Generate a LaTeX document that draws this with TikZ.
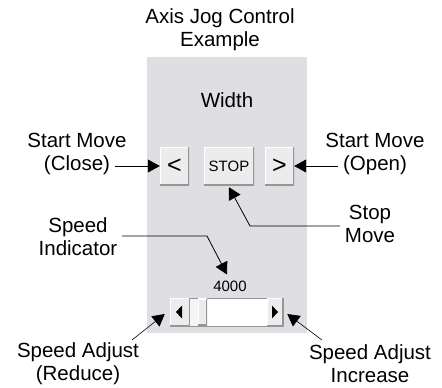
\documentclass[tikz,border=0pt]{standalone}
\usepackage{fontspec}
\setmainfont{Liberation Sans}
\usetikzlibrary{arrows.meta}
\definecolor{panel}{RGB}{222,222,227}
\definecolor{face}{RGB}{236,236,236}
\definecolor{edgedark}{RGB}{150,150,150}
\tikzset{
  lbl/.style={align=center, inner sep=0pt, font=\fontsize{20.5}{23}\selectfont},
  btn/.style={fill=face, inner sep=0pt, draw=none,
    path picture={
      \draw[white, line width=2.5pt] (path picture bounding box.south west) -- (path picture bounding box.north west) -- (path picture bounding box.north east);
      \draw[edgedark, line width=2.5pt] (path picture bounding box.south west) -- (path picture bounding box.south east) -- (path picture bounding box.north east);
    }},
  arr/.style={-{Triangle[length=12pt,width=13pt]}, line width=0.8pt},
  thinarr/.style={-{Triangle[length=12pt,width=13pt]}, line width=0.6pt},
}
\begin{document}
\begin{tikzpicture}[x=1pt,y=-1pt]
\useasboundingbox (0,0) rectangle (442,388);
% panel
\fill[panel] (147,57) rectangle (307,333);
% texts
\node[lbl] (title) at (220,30) {Axis Jog Control\\Example};
\node[lbl] (width) at (227,100) {Width};
\node[lbl] (closelbl) at (77,154) {Start Move\\(Close)};
\node[lbl] (openlbl) at (375,154) {Start Move\\(Open)};
\node[lbl] (stoplbl) at (370,224) {Stop\\Move};
\node[lbl] (spdlbl) at (78,237) {Speed\\Indicator};
\node[lbl] (redlbl) at (78,364) {Speed Adjust\\(Reduce)};
\node[lbl] (inclbl) at (370,364) {Speed Adjust\\Increase};
% buttons
\node[btn, minimum width=29pt, minimum height=38pt, font=\fontsize{25}{25}\selectfont] (bl) at (174.5,166) {<};
\node[btn, minimum width=50pt, minimum height=38pt, font=\fontsize{15}{15}\selectfont] (stop) at (229,166) {STOP};
\node[btn, minimum width=29pt, minimum height=38pt, font=\fontsize{25}{25}\selectfont] (br) at (279.5,166) {>};
% value
\node[inner sep=2pt, font=\fontsize{15}{15}\selectfont] (val) at (230,286) {4000};
% slider
\node[fill=white, draw=edgedark, line width=0.5pt, minimum width=113pt, minimum height=28pt, inner sep=0pt] (sl) at (226.5,312) {};
\node[btn, minimum width=20pt, minimum height=28pt] (sll) at (180,312) {};
\node[btn, minimum width=16pt, minimum height=28pt] (slr) at (275,312) {};
\fill[face!60!white] (190,298.5) rectangle (198,325.5);
\node[btn, minimum width=9pt, minimum height=27pt] (thumb) at (202.5,312) {};
\fill (182,305.5) -- (182,318.5) -- (176,312) -- cycle;
\fill (272,305.5) -- (272,318.5) -- (278,312) -- cycle;
% connectors
\coordinate (c1) at (115,166);
\coordinate (c2) at (338,166);
\coordinate (c3a) at (340,226);
\coordinate (c3b) at (250,226);
\coordinate (c4a) at (122,236);
\coordinate (c4b) at (207,236);
\coordinate (c5) at (132,340);
\coordinate (c6) at (322,340);
\draw[arr] (c1) -- (bl.west);
\draw[arr] (c2) -- (br.east);
\draw[arr] (c3a) -- (c3b) -- ([yshift=-2pt]stop.south);
\draw[arr] (c4a) -- (c4b) -- ([xshift=-3pt,yshift=4pt]val.north);
\draw[thinarr] (c5) -- ([xshift=-5pt,yshift=-2pt]sl.west);
\draw[thinarr] (c6) -- ([xshift=4pt,yshift=-2pt]sl.east);
\end{tikzpicture}
\end{document}
